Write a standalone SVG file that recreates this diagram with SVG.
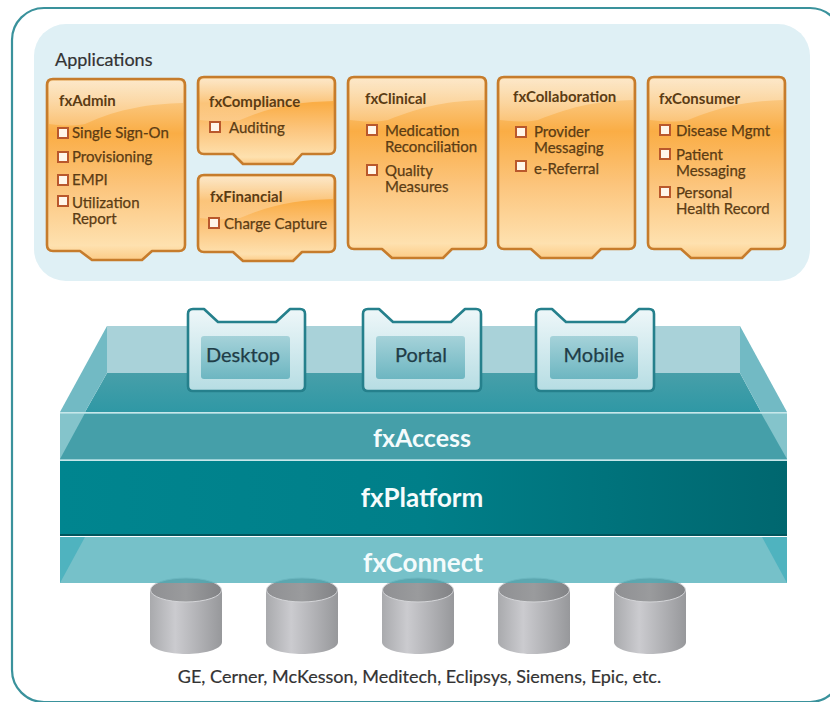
<svg xmlns="http://www.w3.org/2000/svg" width="830" height="702" viewBox="0 0 830 702">
<style>
text{font-family:"Lato","Open Sans","Liberation Sans",sans-serif}
.card{fill:url(#orange);stroke:#c67c2c;stroke-width:2.6;stroke-linejoin:round}
.hl{fill:url(#shine)}
.ct{font-size:15px;font-weight:700;fill:#5b3c14}
.it{font-size:15px;fill:#5b3c14;stroke:#5b3c14;stroke-width:.25}
.bx{fill:#fff6ea;stroke:#b9582c;stroke-width:2}
.fold{fill:url(#pale);stroke:#25808c;stroke-width:2.6;stroke-linejoin:round}
.in{fill:url(#inner)}
.ft{font-size:20px;fill:#1f3d47;text-anchor:middle;stroke:#1f3d47;stroke-width:.25}
.band{font-weight:700;fill:#f4fbfc;text-anchor:middle}
.cyl{fill:url(#steel)}
.cap{fill:url(#lid);stroke:#d4d5d8;stroke-width:1}
</style>
<defs>
<linearGradient id="orange" x1="0" y1="0" x2="0" y2="1">
<stop offset="0" stop-color="#fbd9a6"/><stop offset=".3" stop-color="#faad45"/><stop offset=".6" stop-color="#fcc57d"/><stop offset=".92" stop-color="#fee1af"/><stop offset="1" stop-color="#fccb86"/>
</linearGradient>
<linearGradient id="shine" x1="0" y1="0" x2="0" y2="1">
<stop offset="0" stop-color="#fff" stop-opacity=".4"/><stop offset="1" stop-color="#fff" stop-opacity=".2"/>
</linearGradient>
<linearGradient id="pale" x1="0" y1="0" x2="0" y2="1">
<stop offset="0" stop-color="#eef7f9"/><stop offset="1" stop-color="#b6dde3"/>
</linearGradient>
<linearGradient id="inner" x1="0" y1="0" x2="0" y2="1">
<stop offset="0" stop-color="#a5d2d9"/><stop offset="1" stop-color="#6db6c1"/>
</linearGradient>
<linearGradient id="plat" x1="0" y1="0" x2="1" y2="0">
<stop offset="0" stop-color="#00858f"/><stop offset=".5" stop-color="#007f89"/><stop offset="1" stop-color="#00676f"/>
</linearGradient>
<linearGradient id="steel" x1="0" y1="0" x2="1" y2="0">
<stop offset="0" stop-color="#a9aaad"/><stop offset=".35" stop-color="#cbcbcf"/><stop offset="1" stop-color="#97989b"/>
</linearGradient>
<linearGradient id="lid" x1="0" y1="0" x2="1" y2="0">
<stop offset="0" stop-color="#8f9093"/><stop offset=".5" stop-color="#9a9b9d"/><stop offset="1" stop-color="#828386"/>
</linearGradient>
<linearGradient id="floor" x1="0" y1="0" x2="0" y2="1">
<stop offset="0" stop-color="#479fa9"/><stop offset="1" stop-color="#2f98a5"/>
</linearGradient>
</defs>

<rect id="frame" x="12" y="8" width="830" height="694" rx="32" fill="#fff" stroke="#3a929c" stroke-width="2.2"/>
<rect id="panel" x="34" y="24" width="776" height="257" rx="32" fill="#dff0f5"/>
<text x="55" y="66" font-size="18" fill="#333" stroke="#333" stroke-width=".2">Applications</text>

<g id="fxAdmin">
<path class="card" d="M53 79H179Q185 79 185 85V245Q185 251 179 251H152L142 260H92L80 251H53Q47 251 47 245V85Q47 79 53 79Z"/>
<path class="hl" d="M49 84Q49 81 53 81H179Q183 81 183 84V103C150 104 120 108 85 124C70 127 58 125 49 124Z"/>
<text class="ct" x="59" y="106">fxAdmin</text>
<rect class="bx" x="58" y="128" width="10" height="10"/><text class="it" x="72" y="138">Single Sign-On</text>
<rect class="bx" x="58" y="152" width="10" height="10"/><text class="it" x="72" y="162">Provisioning</text>
<rect class="bx" x="58" y="175" width="10" height="10"/><text class="it" x="72" y="185">EMPI</text>
<rect class="bx" x="58" y="196" width="10" height="10"/><text class="it" x="72" y="208">Utilization</text><text class="it" x="72" y="224">Report</text>
</g>

<g id="fxCompliance">
<path class="card" d="M204 77H329Q335 77 335 83V148Q335 154 329 154H302L293 164H243L233 154H204Q198 154 198 148V83Q198 77 204 77Z"/>
<path class="hl" d="M200 82Q200 79 204 79H329Q333 79 333 82V101C300 102 275 105 240 120C225 122 210 121 200 120Z"/>
<text class="ct" x="209" y="107">fxCompliance</text>
<rect class="bx" x="210" y="122" width="10" height="10"/><text class="it" x="229" y="133">Auditing</text>
</g>

<g id="fxFinancial">
<path class="card" d="M204 175H329Q335 175 335 181V246Q335 252 329 252H302L293 261H243L233 252H204Q198 252 198 246V181Q198 175 204 175Z"/>
<path class="hl" d="M200 180Q200 177 204 177H329Q333 177 333 180V199C300 200 275 203 240 218C225 220 210 219 200 218Z"/>
<text class="ct" x="210" y="202">fxFinancial</text>
<rect class="bx" x="209" y="218" width="10" height="10"/><text class="it" x="224" y="229">Charge Capture</text>
</g>

<g id="fxClinical">
<path class="card" d="M354 77H480Q486 77 486 83V243Q486 249 480 249H452L443 258H392L382 249H354Q348 249 348 243V83Q348 77 354 77Z"/>
<path class="hl" d="M350 82Q350 79 354 79H480Q484 79 484 82V100C450 101 425 105 388 120C372 123 360 121 350 120Z"/>
<text class="ct" x="365" y="104">fxClinical</text>
<rect class="bx" x="367" y="125" width="10" height="10"/><text class="it" x="385" y="136">Medication</text><text class="it" x="385" y="152">Reconciliation</text>
<rect class="bx" x="367" y="165" width="10" height="10"/><text class="it" x="385" y="176">Quality</text><text class="it" x="385" y="192">Measures</text>
</g>

<g id="fxCollaboration">
<path class="card" d="M504 77H629Q635 77 635 83V243Q635 249 629 249H601L592 258H541L531 249H504Q498 249 498 243V83Q498 77 504 77Z"/>
<path class="hl" d="M500 82Q500 79 504 79H629Q633 79 633 82V100C600 101 575 105 538 120C522 123 510 121 500 120Z"/>
<text class="ct" x="513" y="102">fxCollaboration</text>
<rect class="bx" x="516" y="127" width="10" height="10"/><text class="it" x="534" y="137">Provider</text><text class="it" x="534" y="153">Messaging</text>
<rect class="bx" x="516" y="161" width="10" height="10"/><text class="it" x="534" y="174">e-Referral</text>
</g>

<g id="fxConsumer">
<path class="card" d="M654 77H779Q785 77 785 83V243Q785 249 779 249H751L742 258H691L681 249H654Q648 249 648 243V83Q648 77 654 77Z"/>
<path class="hl" d="M650 82Q650 79 654 79H779Q783 79 783 82V100C750 101 725 105 688 120C672 123 660 121 650 120Z"/>
<text class="ct" x="659" y="104">fxConsumer</text>
<rect class="bx" x="660" y="125" width="10" height="10"/><text class="it" x="676" y="136">Disease Mgmt</text>
<rect class="bx" x="660" y="149" width="10" height="10"/><text class="it" x="676" y="160">Patient</text><text class="it" x="676" y="176">Messaging</text>
<rect class="bx" x="660" y="187" width="10" height="10"/><text class="it" x="676" y="198">Personal</text><text class="it" x="676" y="214">Health Record</text>
</g>

<g id="databases">
<g id="db1"><path class="cyl" d="M150 590V642C150 650 170 654 186 654S222 650 222 642V590Z"/><ellipse class="cap" cx="186" cy="590" rx="35.500" ry="12"/></g>
<g id="db2"><path class="cyl" d="M266 590V642C266 650 286 654 302 654S338 650 338 642V590Z"/><ellipse class="cap" cx="302" cy="590" rx="35.500" ry="12"/></g>
<g id="db3"><path class="cyl" d="M382 590V642C382 650 402 654 418 654S454 650 454 642V590Z"/><ellipse class="cap" cx="418" cy="590" rx="35.500" ry="12"/></g>
<g id="db4"><path class="cyl" d="M498 590V642C498 650 518 654 534 654S570 650 570 642V590Z"/><ellipse class="cap" cx="534" cy="590" rx="35.500" ry="12"/></g>
<g id="db5"><path class="cyl" d="M614 590V642C614 650 634 654 650 654S686 650 686 642V590Z"/><ellipse class="cap" cx="650" cy="590" rx="35.500" ry="12"/></g>
</g>

<g id="stack">
<rect x="107" y="326" width="633" height="47" fill="#a9d2d9"/>
<polygon points="107,373 740,373 761,412 85,412" fill="url(#floor)"/>
<polygon points="107,326 60,412 85,412 107,373" fill="#72bac4"/>
<polygon points="740,326 787,412 761,412 740,373" fill="#72bac4"/>
</g>

<g id="fxAccess">
<rect x="60" y="413" width="727" height="47" fill="#459fa9"/>
<polygon points="60,413 85,413 60,459" fill="#84c4cb"/>
<polygon points="761,413 787,413 787,459" fill="#84c4cb"/>
<path d="M60 413H787M60 460H787" stroke="#b5e0e4" stroke-width="1.6" fill="none"/>
<text class="band" x="422" y="447" font-size="25">fxAccess</text>
</g>

<g id="fxPlatform">
<rect x="60" y="461" width="727" height="75" fill="url(#plat)"/>
<rect x="60" y="534" width="727" height="2" fill="#00565e"/>
<text class="band" x="422" y="507" font-size="26">fxPlatform</text>
</g>

<g id="fxConnect">
<rect x="60" y="537" width="727" height="46" fill="#48acb7" fill-opacity=".75"/>
<polygon points="60,537 85,537 60,583" fill="#4fb3bf"/>
<polygon points="762,537 787,537 787,583" fill="#4fb3bf"/>
<text class="band" x="423" y="572" font-size="26">fxConnect</text>
</g>

<g id="Desktop">
<path class="fold" d="M193 309H204L218 322H276L290 309H300Q305 309 305 314V386Q305 391 300 391H193Q188 391 188 386V314Q188 309 193 309Z"/>
<rect class="in" x="201" y="336" width="89" height="43" rx="3"/>
<text class="ft" x="243" y="362">Desktop</text>
</g>
<g id="Portal">
<path class="fold" d="M368 309H379L393 322H451L465 309H476Q481 309 481 314V386Q481 391 476 391H368Q363 391 363 386V314Q363 309 368 309Z"/>
<rect class="in" x="376" y="336" width="89" height="43" rx="3"/>
<text class="ft" x="421" y="362">Portal</text>
</g>
<g id="Mobile">
<path class="fold" d="M541 309H552L566 322H625L639 309H649Q654 309 654 314V386Q654 391 649 391H541Q536 391 536 386V314Q536 309 541 309Z"/>
<rect class="in" x="550" y="336" width="88" height="43" rx="3"/>
<text class="ft" x="594" y="362">Mobile</text>
</g>

<text x="419.500" y="683" font-size="18" fill="#333" text-anchor="middle" stroke="#333" stroke-width=".2">GE, Cerner, McKesson, Meditech, Eclipsys, Siemens, Epic, etc.</text>
</svg>
